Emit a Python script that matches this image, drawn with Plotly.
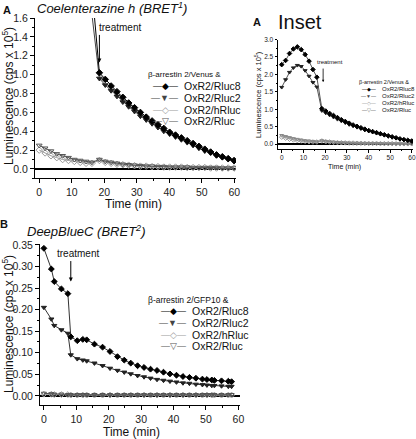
import plotly.graph_objects as go

W, H = 416, 439


def px(x):
    return x / W


def py(y):
    return 1 - y / H


# ---------------- Panel A / Inset data (Coelenterazine h, BRET1) ----------------
time_a = [0, 1.8, 3.6, 5.4, 7.2, 9.0, 10.8, 12.6, 14.4, 16.2,
          18.5, 20.3, 22.1, 23.9, 25.7, 27.5, 29.3, 31.1, 32.9, 34.7, 36.5, 38.3,
          40.1, 41.9, 43.7, 45.5, 47.3, 49.1, 50.9, 52.7, 54.5, 56.3, 58.1, 59.9]
a_rluc8 = [2.28, 2.40, 2.60, 2.73, 2.79, 2.71, 2.57, 2.38, 2.14, 1.92,
           1.02, 0.95, 0.88, 0.82, 0.76, 0.70, 0.65, 0.60, 0.55, 0.51, 0.47, 0.43,
           0.39, 0.36, 0.33, 0.30, 0.27, 0.24, 0.21, 0.18, 0.15, 0.13, 0.11, 0.09]
a_rluc2 = [1.63, 1.85, 2.06, 2.19, 2.26, 2.23, 2.11, 1.95, 1.77, 1.64,
           0.96, 0.89, 0.83, 0.77, 0.71, 0.66, 0.61, 0.56, 0.52, 0.48, 0.44, 0.40,
           0.37, 0.34, 0.31, 0.28, 0.25, 0.22, 0.19, 0.17, 0.14, 0.12, 0.10, 0.08]
a_hrluc = [0.20, 0.17, 0.14, 0.12, 0.10, 0.09, 0.08, 0.07, 0.06, 0.06,
           0.09, 0.07, 0.06, 0.05, 0.045, 0.04, 0.035, 0.03, 0.03, 0.025, 0.025, 0.02,
           0.02, 0.02, 0.02, 0.015, 0.015, 0.015, 0.015, 0.01, 0.01, 0.01, 0.01, 0.01]
a_rluc = [0.25, 0.22, 0.19, 0.16, 0.14, 0.12, 0.10, 0.09, 0.08, 0.07,
          0.10, 0.08, 0.07, 0.06, 0.05, 0.045, 0.04, 0.035, 0.03, 0.03, 0.025, 0.025,
          0.02, 0.02, 0.02, 0.02, 0.015, 0.015, 0.015, 0.015, 0.015, 0.01, 0.01, 0.01]

# ---------------- Panel B data (DeepBlueC, BRET2) ----------------
time_b = [0, 2.3, 3.2, 5.4, 7.4, 8.3, 10.3, 12.0, 13.2, 15.6, 18.1, 20.4, 22.7, 24.8,
          26.8, 28.9, 30.9, 32.9, 34.9, 36.9, 38.9, 40.9, 42.9, 44.9, 46.9, 48.9,
          50.3, 51.8, 52.6, 54.8, 56.9, 57.9]
b_rluc8 = [0.342, 0.294, 0.265, 0.248, 0.237, 0.137, 0.128, 0.131, 0.130, 0.120,
           0.113, 0.103, 0.091, 0.083, 0.076, 0.070, 0.066, 0.062, 0.059, 0.055,
           0.051, 0.048, 0.045, 0.043, 0.041, 0.039, 0.038, 0.037, 0.036, 0.035,
           0.034, 0.033]
b_rluc2 = [0.205, 0.178, 0.163, 0.153, 0.145, 0.095, 0.086, 0.083, 0.081, 0.076,
           0.070, 0.064, 0.059, 0.055, 0.051, 0.047, 0.044, 0.041, 0.038, 0.036,
           0.034, 0.032, 0.030, 0.029, 0.027, 0.026, 0.025, 0.024, 0.024, 0.023,
           0.022, 0.022]
b_hrluc = [0.004, 0.004, 0.003, 0.003, 0.003, 0.002, 0.002, 0.002, 0.002, 0.002,
           0.002, 0.002, 0.002, 0.002, 0.002, 0.002, 0.002, 0.002, 0.002, 0.002,
           0.002, 0.002, 0.002, 0.002, 0.002, 0.002, 0.002, 0.002, 0.002, 0.002,
           0.002, 0.002]
b_rluc = [0.006, 0.005, 0.004, 0.004, 0.003, 0.003, 0.003, 0.003, 0.003, 0.003,
          0.003, 0.003, 0.003, 0.003, 0.003, 0.003, 0.003, 0.003, 0.003, 0.003,
          0.003, 0.003, 0.003, 0.003, 0.003, 0.003, 0.003, 0.003, 0.003, 0.003,
          0.003, 0.003]

x_ticks = [0, 10, 20, 30, 40, 50, 60]
series_names = ["OxR2/Rluc8", "OxR2/Rluc2", "OxR2/hRluc", "OxR2/Rluc"]

FONT = "Liberation Sans, Arial, DejaVu Sans, sans-serif"
C8, C2, CH, CR = "#000000", "#222222", "#9a9a9a", "#555555"

fig = go.Figure()


def add(xa, ya, t, v, name, symbol, mcolor, lcolor, size=5, lw=1):
    fig.add_trace(go.Scatter(
        x=t, y=v, xaxis=xa, yaxis=ya, mode="lines+markers", name=name,
        showlegend=False,
        marker=dict(symbol=symbol, size=size, color=mcolor,
                    line=dict(color=mcolor, width=1)),
        line=dict(color=lcolor, width=lw)))


# Panel A
add("x", "y", time_a, a_hrluc, series_names[2], "diamond-open", CH, CH)
add("x", "y", time_a, a_rluc, series_names[3], "triangle-down-open", CR, CR)
add("x", "y", time_a, a_rluc2, series_names[1], "triangle-down", C2, "#444444")
add("x", "y", time_a, a_rluc8, series_names[0], "diamond", C8, C8)
# Inset
add("x2", "y2", time_a, a_hrluc, series_names[2], "diamond-open", CH, "#bbbbbb", 3.5)
add("x2", "y2", time_a, a_rluc, series_names[3], "triangle-down-open", "#888888", "#888888", 3.5)
add("x2", "y2", time_a, a_rluc2, series_names[1], "triangle-down", C2, "#555555", 3.5)
add("x2", "y2", time_a, a_rluc8, series_names[0], "diamond", C8, "#555555", 3.5)
# Panel B
add("x3", "y3", time_b, b_hrluc, series_names[2], "diamond-open", CH, CH, 4.5)
add("x3", "y3", time_b, b_rluc, series_names[3], "triangle-down-open", CR, CR, 4.5)
add("x3", "y3", time_b, b_rluc2, series_names[1], "triangle-down", C2, "#333333", 4.5)
add("x3", "y3", time_b, b_rluc8, series_names[0], "diamond", C8, "#333333", 4.5)


def xax(domain, rng, anchor, fs, tl=4):
    return dict(domain=domain, range=rng, anchor=anchor, tickmode="array",
                tickvals=x_ticks, ticks="outside", ticklen=tl, tickwidth=1,
                tickcolor="black", showline=True, linecolor="black", linewidth=1,
                showgrid=False, zeroline=False, automargin=False,
                tickfont=dict(size=fs, color="#222", family=FONT),
                minor=dict(ticks="outside", ticklen=tl / 2, dtick=5,
                           tickcolor="black", showgrid=False))


def yax(domain, rng, anchor, fs, dtick, mdtick, fmt, tl=4):
    return dict(domain=domain, range=rng, anchor=anchor, dtick=dtick, tick0=0,
                tickformat=fmt, ticks="outside", ticklen=tl, tickwidth=1,
                tickcolor="black", showline=True, linecolor="black", linewidth=1,
                showgrid=False, zeroline=True, zerolinecolor="black",
                zerolinewidth=1.5, automargin=False,
                tickfont=dict(size=fs, color="#222", family=FONT),
                minor=dict(ticks="outside", ticklen=tl / 2, dtick=mdtick,
                           tickcolor="black", showgrid=False))


fig.update_layout(
    width=W, height=H, margin=dict(l=0, r=0, t=0, b=0, autoexpand=False),
    paper_bgcolor="white", plot_bgcolor="white",
    font=dict(family=FONT, color="#222"),
    xaxis=xax([px(35), px(236)], [-1.3, 60.5], "y", 10.5, 3.5),
    yaxis=yax([py(178.4), py(18)], [-0.1, 1.601], "x", 10.5, 0.2, 0.1, ".1f"),
    xaxis2=xax([px(278), px(413)], [-1.7, 60.5], "y2", 6.5, 2.5),
    yaxis2=yax([py(149), py(39.5)], [-0.14, 3.001], "x2", 6.5, 0.5, 0.25, ".1f", 2.5),
    xaxis3=xax([px(40), px(240)], [-1.2, 60.5], "y3", 10.5),
    yaxis3=yax([py(405), py(244)], [-0.021, 0.352], "x3", 10.5, 0.05, 0.025, ".2f"),
)

ann = []


def text(x, y, s, size, anchor="center", **kw):
    d = dict(x=px(x), y=py(y), xref="paper", yref="paper", text=s,
             showarrow=False, xanchor=anchor, yanchor="middle",
             font=dict(size=size, color=kw.pop("color", "#111"), family=FONT))
    d.update(kw)
    ann.append(d)


# Panel letters and titles
text(7, 10, "<b>A</b>", 11)
text(112, 8, "<i>Coelenterazine h (BRET<sup>1</sup>)</i>", 13)
text(4, 224, "<b>B</b>", 11)
text(86, 231, "<i>DeepBlueC (BRET<sup>2</sup>)</i>", 13)
text(257, 22, "<b>A</b>", 11)
text(300, 22, "Inset", 20)

# Axis titles
text(8, 96, "Luminescence (cps x 10<sup>5</sup>)", 12, textangle=-90)
text(133, 204, "Time (min)", 12)
text(8, 324, "Luminescence (cps x 10<sup>5</sup>)", 12, textangle=-90)
text(131, 432, "Time (min)", 12)
text(258, 95, "Luminescence (cps x 10<sup>5</sup>)", 7.5, textangle=-90)
text(344, 167, "Time (min)", 7)

# Treatment markers
text(97, 27, "treatment", 10, anchor="left")
ann.append(dict(x=18.5, y=1.13, xref="x", yref="y", text="", showarrow=True,
                ax=0, ay=-29, arrowhead=2, arrowsize=0.8, arrowwidth=1,
                arrowcolor="black"))
text(55, 253, "treatment", 10, anchor="left")
ann.append(dict(x=8.3, y=0.265, xref="x3", yref="y3", text="", showarrow=True,
                ax=0, ay=-22, arrowhead=2, arrowsize=0.8, arrowwidth=1,
                arrowcolor="black"))
text(315, 62, "treatment", 6, anchor="left")
ann.append(dict(x=19.1, y=1.78, xref="x2", yref="y2", text="", showarrow=True,
                ax=0, ay=-15, arrowhead=2, arrowsize=0.6, arrowwidth=0.8,
                arrowcolor="black"))

# Legends (text keys)
glyphs = [("—◆—", C8), ("—▼—", "#444"), ("—◇—", CH), ("—▽—", CR)]


def legend(x0, xt, ytitle, rows, title, fs_title, fs, gs):
    text(x0, ytitle, title, fs_title, anchor="left")
    for (g, c), name, yy in zip(glyphs, series_names, rows):
        text(xt - 2, yy, f'<span style="color:{c}">{g}</span>', gs, anchor="right")
        text(xt, yy, name, fs, anchor="left")


legend(146, 182, 74, [86.5, 98.2, 109.7, 121], "β-arrestin 2/Venus &", 8, 10.5, 9)
legend(146, 190, 300, [311, 322.7, 334.5, 346], "β-arrestin 2/GFP10 &", 8.5, 10.5, 9)
legend(357, 380, 82, [89, 96, 103, 110], "β-arrestin 2/Venus &", 5.5, 6, 5)

fig.update_layout(annotations=ann)
fig.write_html(
    "out.html",
    config={"displayModeBar": False},
    post_script="document.body.style.margin='0';document.body.style.overflow='hidden';",
)
